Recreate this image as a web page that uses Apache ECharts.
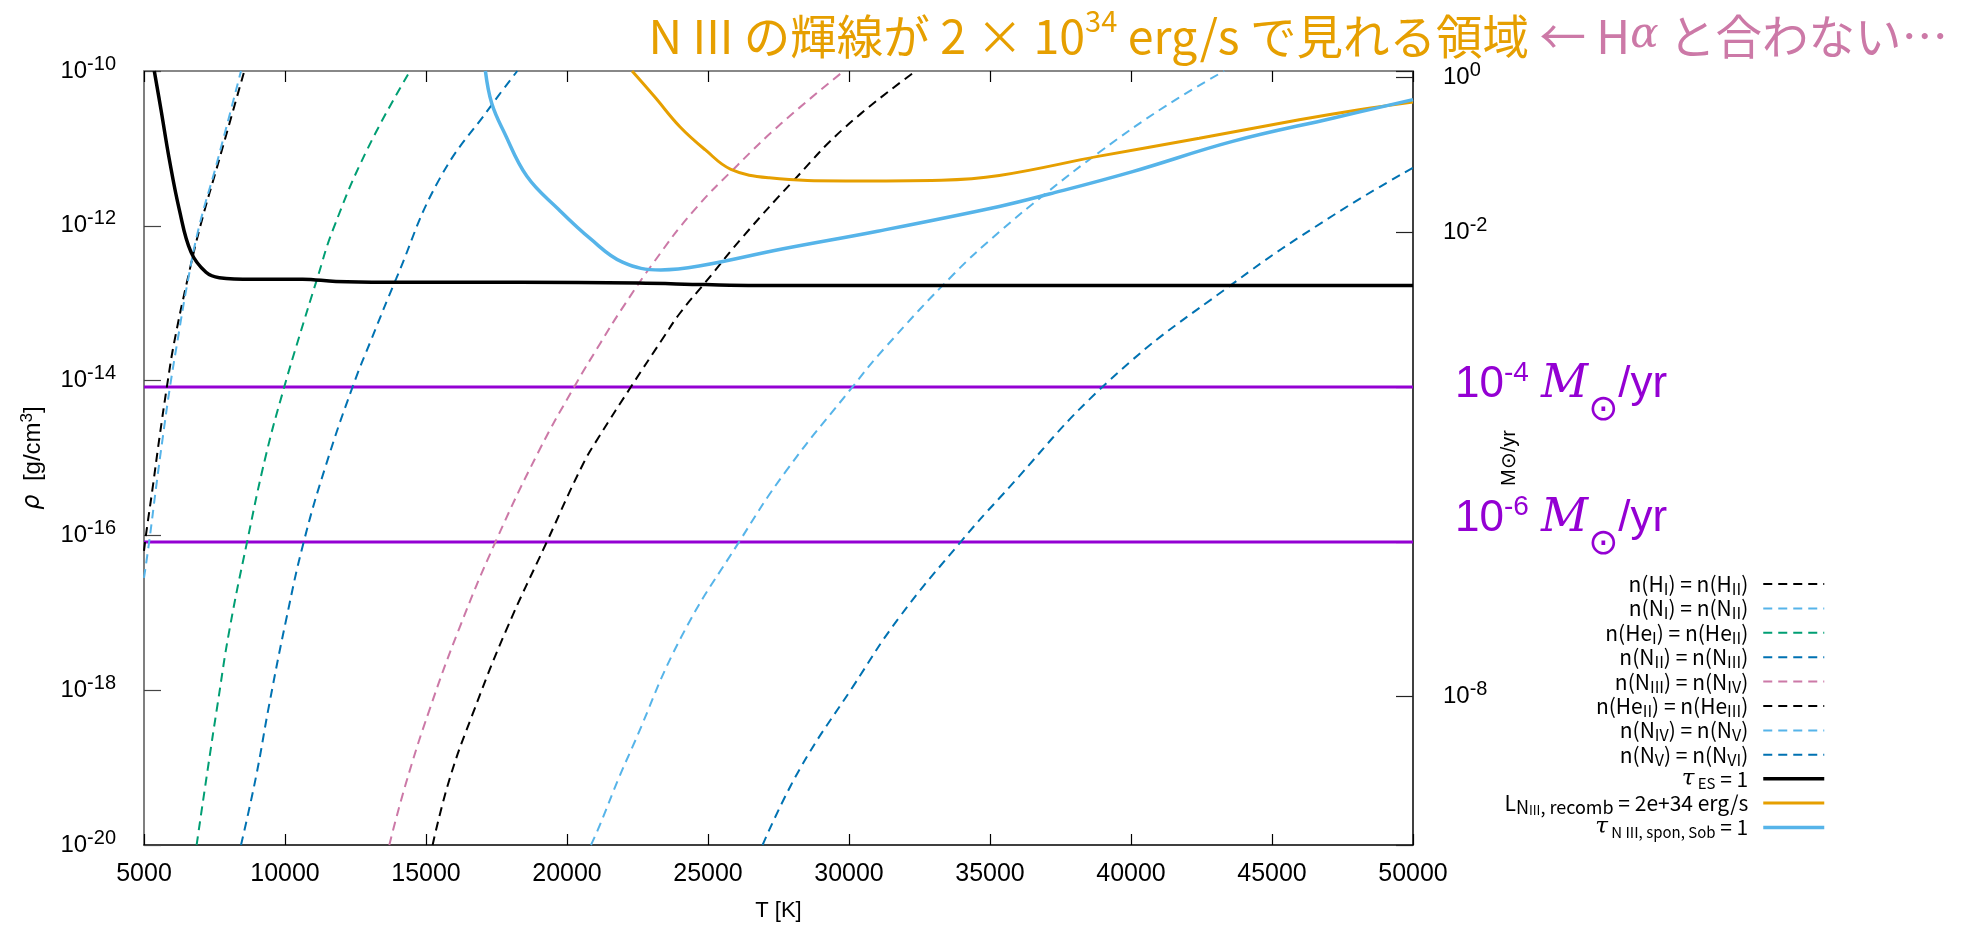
<!DOCTYPE html>
<html><head><meta charset="utf-8">
<script src="https://cdn.jsdelivr.net/npm/echarts@6/dist/echarts.min.js"></script>
<style>html,body{margin:0;padding:0;background:#fff}#c{width:1983px;height:927px}</style>
</head><body><div id="c"></div>
<script>
// Temperature [K] and log10(rho [g/cm^3])
const T_HI = [5000, 5071, 5305, 5543, 5837, 6074, 6546, 7000, 7670, 8557];
const LOG_HI = [-16.2, -15.99, -15.39, -14.75, -14.02, -13.5, -12.69, -12.0, -11.14, -10.0];
const T_NI = [5000, 5188, 5425, 5660, 5922, 6191, 6546, 6961, 7553, 8440];
const LOG_NI = [-16.55, -16.07, -15.39, -14.75, -14.08, -13.48, -12.73, -12.0, -11.23, -10.0];
const T_HEI = [6866, 7256, 7610, 8025, 8652, 9326, 9975, 10482, 11135, 11702, 12908, 14433];
const LOG_HEI = [-20.0, -19.03, -18.18, -17.23, -16.09, -14.96, -14.08, -13.46, -12.69, -12.05, -11.02, -10.0];
const T_NII = [8440, 8971, 9443, 10035, 10660, 11454, 12398, 13071, 13936, 15471, 17305, 18237];
const LOG_NII = [-20.0, -19.12, -18.18, -17.10, -16.09, -15.09, -14.08, -13.46, -12.69, -11.40, -10.45, -10.0];
const T_NIII = [13699, 14291, 15117, 16181, 17457, 19017, 20258, 21177, 21968, 23100, 24457, 26038, 27623, 29815];
const LOG_NIII = [-20.0, -19.20, -18.26, -17.20, -16.09, -14.90, -14.08, -13.52, -13.06, -12.46, -11.82, -11.22, -10.67, -10.0];
const T_HEII = [15234, 15826, 16652, 17837, 19277, 20553, 21145, 22269, 23390, 24003, 24908, 26266, 28074, 29882, 32372];
const LOG_HEII = [-20.0, -19.16, -18.31, -17.23, -16.09, -15.09, -14.72, -14.08, -13.46, -13.13, -12.73, -12.13, -11.40, -10.72, -10.0];
const T_NIV = [20851, 21145, 21854, 22326, 24042, 26109, 27765, 30128, 31240, 33726, 35329, 36984, 38875, 41240, 43307];
const LOG_NIV = [-20.0, -19.76, -19.12, -18.73, -17.32, -16.08, -15.17, -14.08, -13.59, -12.62, -12.08, -11.58, -11.05, -10.45, -10.0];
const T_NV = [26936, 28237, 30128, 31782, 33971, 35329, 39230, 43602, 47148, 50000];
const LOG_NV = [-20.0, -19.03, -17.96, -17.06, -16.08, -15.52, -14.0, -12.75, -11.87, -11.25];
const T_TAUES = [5365, 5603, 5897, 6252, 6667, 7199, 7670, 8851, 10624, 11808, 13581, 18308, 22500, 24908, 26713, 35000, 50000];
const LOG_TAUES = [-10.0, -10.50, -11.14, -11.79, -12.34, -12.60, -12.67, -12.69, -12.69, -12.72, -12.73, -12.73, -12.74, -12.76, -12.77, -12.77, -12.77];
const T_LNIII = [22308, 23100, 24003, 24908, 25812, 27170, 29882, 33276, 35329, 38875, 42421, 45967, 48094, 50000];
const LOG_LNIII = [-10.0, -10.33, -10.72, -11.02, -11.27, -11.38, -11.42, -11.41, -11.35, -11.10, -10.87, -10.63, -10.50, -10.40];
const T_TAUN = [17106, 17333, 17783, 18578, 19706, 20837, 21968, 23326, 24680, 27623, 31014, 35329, 37103, 40056, 43602, 47148, 50000];
const LOG_TAUN = [-10.0, -10.42, -10.80, -11.36, -11.79, -12.17, -12.47, -12.57, -12.52, -12.30, -12.07, -11.75, -11.59, -11.30, -10.91, -10.61, -10.37];
// log10 of mass-loss-rate levels [Msun/yr] on the right axis
const MDOT_LEVELS = [-4, -6];
// axis ranges (T in K, exponents of rho and Mdot)
const T_RANGE = [5000, 50000];
const RHO_EXP_RANGE = [-20, -10];
const MDOT_EXP_RANGE = [-9.916, 0.084];
// right-axis tick exponents that carry a label
const RIGHT_LABEL_EXP = [0, -2, -8];

const pair = (T, L) => T.map((t, i) => [t, L[i]]);

const legendText = {
  HI: '{n|n(H}{s|I}{n|) = n(H}{s|II}{n|)}',
  NI: '{n|n(N}{s|I}{n|) = n(N}{s|II}{n|)}',
  HeI: '{n|n(He}{s|I}{n|) = n(He}{s|II}{n|)}',
  NII: '{n|n(N}{s|II}{n|) = n(N}{s|III}{n|)}',
  NIII: '{n|n(N}{s|III}{n|) = n(N}{s|IV}{n|)}',
  HeII: '{n|n(He}{s|II}{n|) = n(He}{s|III}{n|)}',
  NIV: '{n|n(N}{s|IV}{n|) = n(N}{s|V}{n|)}',
  NV: '{n|n(N}{s|V}{n|) = n(N}{s|VI}{n|)}',
  tauES: '{t|τ}{st| ES}{n| = 1}',
  LNIII: '{n|L}{sl|N}{ss|III}{sl|, recomb}{n| = 2e+34 erg/s}',
  tauNIII: '{t|τ}{st| N III, spon, Sob}{n| = 1}'
};

function dashed(name, T, L, color) {
  return { name, type: 'line', data: pair(T, L), symbol: 'none', smooth: 0.45,
    lineStyle: { color, width: 2, type: [9, 6] }, itemStyle: { color }, silent: true, z: 3 };
}
function solid(name, T, L, color, w) {
  return { name, type: 'line', data: pair(T, L), symbol: 'none', smooth: 0.4,
    lineStyle: { color, width: w }, itemStyle: { color }, silent: true, z: 4 };
}

const series = [
  dashed('HI', T_HI, LOG_HI, '#000000'),
  dashed('NI', T_NI, LOG_NI, '#56B4E9'),
  dashed('HeI', T_HEI, LOG_HEI, '#009E73'),
  dashed('NII', T_NII, LOG_NII, '#0072B2'),
  dashed('NIII', T_NIII, LOG_NIII, '#CC79A7'),
  dashed('HeII', T_HEII, LOG_HEII, '#000000'),
  dashed('NIV', T_NIV, LOG_NIV, '#56B4E9'),
  dashed('NV', T_NV, LOG_NV, '#0072B2'),
  solid('tauES', T_TAUES, LOG_TAUES, '#000000', 3.5),
  solid('LNIII', T_LNIII, LOG_LNIII, '#E69F00', 3),
  solid('tauNIII', T_TAUN, LOG_TAUN, '#56B4E9', 3.5)
];
MDOT_LEVELS.forEach((m, i) => {
  series.push({ name: 'mdot' + i, type: 'line', yAxisIndex: 1, symbol: 'none', silent: true, z: 2,
    data: [[T_RANGE[0], m], [T_RANGE[1], m]], lineStyle: { color: '#9400D3', width: 3 } });
});

const tickFont = 'Liberation Sans';
const expLabel = (v, allowed) => {
  const r = Math.round(v);
  if (Math.abs(v - r) > 1e-6) return '';
  if (allowed && allowed.indexOf(r) < 0) return '';
  return '{b|10}{s|' + r + '}';
};
const tickRich = {
  b: { fontSize: 24, fontFamily: tickFont, color: '#000', lineHeight: 26 },
  s: { fontSize: 20, fontFamily: tickFont, color: '#000', lineHeight: 14, padding: [0, 0, 14, 0] }
};
const nw = 'normal';
const lgFont = 'Noto Sans CJK JP';

const chart = echarts.init(document.getElementById('c'), null, { renderer: 'canvas' });
chart.setOption({
  animation: false,
  backgroundColor: '#ffffff',
  title: {
    text: '{o|N III の輝線が 2 × 10}{os|34}{o| erg/s で見れる領域 }{p|← H}{pi|α}{p| と合わない…}',
    right: 30, top: 3,
    textStyle: {
      fontWeight: nw,
      rich: {
        o: { color: '#E69F00', fontSize: 46.5, fontWeight: nw, fontFamily: lgFont, lineHeight: 56 },
        os: { color: '#E69F00', fontSize: 29, fontWeight: nw, fontFamily: lgFont, lineHeight: 26, padding: [0, 0, 30, 0] },
        p: { color: '#CC79A7', fontSize: 46.5, fontWeight: nw, fontFamily: lgFont, lineHeight: 56 },
        pi: { color: '#CC79A7', fontSize: 42, fontWeight: nw, fontFamily: 'DejaVu Serif', fontStyle: 'italic', lineHeight: 56 }
      }
    }
  },
  grid: { left: 144, right: 570, top: 71, bottom: 79, show: false },
  xAxis: [{
    type: 'value', min: T_RANGE[0], max: T_RANGE[1], interval: 5000, position: 'bottom',
    axisLine: { show: true, onZero: false, lineStyle: { color: '#000', width: 1.5 } },
    axisTick: { show: true, inside: true, length: 11, lineStyle: { color: '#000', width: 1.2 } },
    axisLabel: { margin: 17, fontSize: 25, fontFamily: tickFont, color: '#000', formatter: v => String(v) },
    splitLine: { show: false },
    name: 'T [K]', nameLocation: 'middle', nameGap: 55,
    nameTextStyle: { fontSize: 22, fontFamily: tickFont, color: '#000' }
  }, {
    type: 'value', min: T_RANGE[0], max: T_RANGE[1], interval: 5000, position: 'top',
    axisLine: { show: true, onZero: false, lineStyle: { color: '#888', width: 2 } },
    axisTick: { show: true, inside: true, length: 11, lineStyle: { color: '#000', width: 1.2 } },
    axisLabel: { show: false }, splitLine: { show: false }
  }],
  yAxis: [{
    type: 'value', min: RHO_EXP_RANGE[0], max: RHO_EXP_RANGE[1], interval: 2, position: 'left',
    axisLine: { show: true, onZero: false, lineStyle: { color: '#555', width: 1.5 } },
    axisTick: { show: true, inside: true, length: 17, lineStyle: { color: '#444', width: 1.2 } },
    splitLine: { show: false },
    axisLabel: { margin: 28, formatter: v => expLabel(v), rich: tickRich },
    name: '{i|ρ}{n|  [g/cm}{s|3}{n|]}', nameLocation: 'middle', nameRotate: 90, nameGap: 98,
    nameTextStyle: { rich: {
      i: { fontSize: 24, fontFamily: 'DejaVu Sans', fontStyle: 'italic', color: '#000', lineHeight: 26 },
      n: { fontSize: 24, fontFamily: tickFont, color: '#000', lineHeight: 26 },
      s: { fontSize: 17, fontFamily: tickFont, color: '#000', lineHeight: 14, padding: [0, 0, 12, 0] }
    } }
  }, {
    type: 'value', min: MDOT_EXP_RANGE[0], max: MDOT_EXP_RANGE[1], splitNumber: 5, position: 'right',
    axisLine: { show: true, onZero: false, lineStyle: { color: '#000', width: 1.5 } },
    axisTick: { show: true, inside: true, length: 17, lineStyle: { color: '#222', width: 1.2 } },
    splitLine: { show: false },
    axisLabel: { margin: 30, formatter: v => expLabel(v, RIGHT_LABEL_EXP), rich: tickRich },
    name: 'M⊙/yr', nameLocation: 'middle', nameRotate: 90, nameGap: 86,
    nameTextStyle: { fontSize: 20, fontFamily: tickFont, color: '#000' }
  }],
  legend: {
    data: Object.keys(legendText), orient: 'vertical', right: 157, top: 571, align: 'right',
    itemWidth: 61, itemHeight: 14, itemGap: -1.6, padding: 0, selectedMode: false,
    itemStyle: { opacity: 0 },
    lineStyle: { width: 'inherit' },
    formatter: name => legendText[name],
    textStyle: {
      color: '#000', padding: [0, 10, 0, 0],
      rich: {
        n: { fontSize: 21, fontFamily: lgFont, color: '#000', lineHeight: 22 },
        t: { fontSize: 23, fontFamily: 'DejaVu Serif', fontStyle: 'italic', color: '#000', lineHeight: 22 },
        s: { fontSize: 16, fontFamily: lgFont, color: '#000', lineHeight: 12, padding: [10, 0, 0, 0] },
        st: { fontSize: 15, fontFamily: lgFont, color: '#000', lineHeight: 12, padding: [10, 0, 0, 0] },
        sl: { fontSize: 18, fontFamily: lgFont, color: '#000', lineHeight: 14, padding: [8, 0, 0, 0] },
        ss: { fontSize: 13, fontFamily: lgFont, color: '#000', lineHeight: 8, padding: [14, 0, 0, 0] }
      }
    }
  },
  graphic: MDOT_LEVELS.map((e, i) => ({
    type: 'text', x: 1455, y: i === 0 ? 385 : 519, silent: true,
    style: {
      text: '{a|10}{b|' + e + '}{a| }{m|M}{o|⊙}{a|/yr}',
      verticalAlign: 'middle', align: 'left',
      rich: {
        a: { fontSize: 44, fontFamily: tickFont, fill: '#9400D3', lineHeight: 50 },
        b: { fontSize: 28, fontFamily: tickFont, fill: '#9400D3', lineHeight: 28, padding: [0, 0, 23, 0] },
        m: { fontSize: 46, fontFamily: 'DejaVu Serif', fontStyle: 'italic', fill: '#9400D3', lineHeight: 50 },
        o: { fontSize: 36, fontFamily: 'DejaVu Sans', fill: '#9400D3', lineHeight: 30, padding: [52, 0, 0, 0] }
      }
    }
  })),
  series
});
</script></body></html>
